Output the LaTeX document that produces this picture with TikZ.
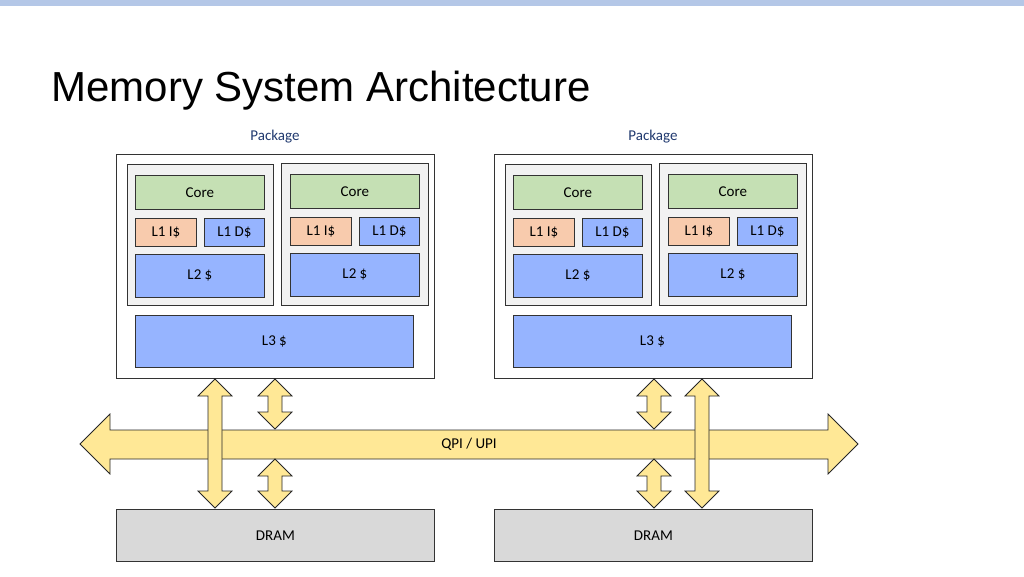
\documentclass[tikz,border=0pt]{standalone}
\usepackage{fontspec}
\setmainfont{Carlito}
\newfontfamily\titlefont{Liberation Sans}
\definecolor{topbar}{RGB}{180,199,231}
\definecolor{coregreen}{RGB}{197,224,180}
\definecolor{lonei}{RGB}{248,203,173}
\definecolor{cacheblue}{RGB}{150,180,255}
\definecolor{boxgray}{RGB}{242,242,242}
\definecolor{dramgray}{RGB}{217,217,217}
\definecolor{busyellow}{RGB}{255,232,150}
\definecolor{pkgblue}{RGB}{31,56,110}
\newcommand{\vbus}[3]{% center x, top y, bottom y
\filldraw[bus] (#1-7,#2+17) -- (#1-17,#2+17) -- (#1,#2) -- (#1+17,#2+17) -- (#1+7,#2+17)
  -- (#1+7,#3-17) -- (#1+17,#3-17) -- (#1,#3) -- (#1-17,#3-17) -- (#1-7,#3-17) -- cycle;}
\tikzset{
  blk/.style={draw=black!80,thick,anchor=north west,inner sep=0pt,font=\fontsize{15}{15}\selectfont},
  bus/.style={fill=busyellow,draw=black!85,thick}
}
\begin{document}
\begin{tikzpicture}[x=1pt,y=-1pt]
\useasboundingbox (0,0) rectangle (1024,576);
\fill[topbar] (0,0) rectangle (1024,6);
\node[anchor=base west,font=\titlefont\fontsize{42}{42}\selectfont] (title) at (48,101) {Memory System Architecture};
% packages
\foreach \dx/\p in {0/a,378/b}{
\begin{scope}[xshift=\dx]
\node[blk,fill=white,minimum width=318,minimum height=224] (pkg\p) at (116,154) {};
\node[anchor=base,text=pkgblue,font=\fontsize{15}{15}\selectfont] (lbl\p) at (275,140) {Package};
\node[blk,fill=boxgray,minimum width=146,minimum height=141] (cpu\p1) at (127,164) {};
\node[blk,fill=boxgray,minimum width=147,minimum height=142] (cpu\p2) at (281,163) {};
\node[blk,fill=coregreen,minimum width=129,minimum height=34] (core\p1) at (135,175) {Core};
\node[blk,fill=coregreen,minimum width=129,minimum height=34] (core\p2) at (290,174) {Core};
\node[blk,fill=lonei,minimum width=61,minimum height=28] (li\p1) at (135,218) {L1 I\$};
\node[blk,fill=cacheblue,minimum width=60,minimum height=28] (ld\p1) at (204,218) {L1 D\$};
\node[blk,fill=lonei,minimum width=61,minimum height=28] (li\p2) at (290,217) {L1 I\$};
\node[blk,fill=cacheblue,minimum width=60,minimum height=28] (ld\p2) at (359,217) {L1 D\$};
\node[blk,fill=cacheblue,minimum width=129,minimum height=43] (ltwo\p1) at (135,254) {L2 \$};
\node[blk,fill=cacheblue,minimum width=129,minimum height=43] (ltwo\p2) at (290,253) {L2 \$};
\node[blk,fill=cacheblue,minimum width=278,minimum height=52] (lthree\p) at (135,315) {L3 \$};
\node[blk,fill=dramgray,minimum width=318,minimum height=52] (dram\p) at (116,509) {DRAM};
\end{scope}
}
% QPI bus
\filldraw[bus] (80,444) -- (110,414) -- (110,430) -- (828,430) -- (828,414) -- (858,444)
  -- (828,474) -- (828,459) -- (110,459) -- (110,474) -- cycle;
\node[font=\fontsize{15}{15}\selectfont] (qpi) at (469,444) {QPI / UPI};
% links
\vbus{275}{379}{429}
\vbus{275}{459}{508}
\vbus{654}{379}{429}
\vbus{654}{459}{508}
\vbus{215}{379}{508}
\vbus{702}{379}{508}
\end{tikzpicture}
\end{document}
